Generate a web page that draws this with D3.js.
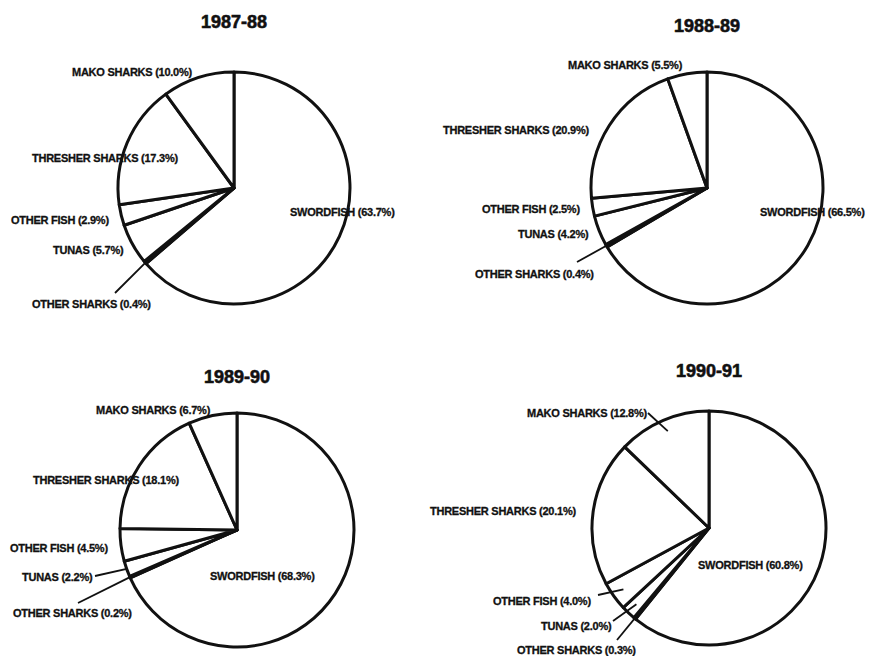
<!DOCTYPE html>
<html><head><meta charset="utf-8">
<script src="https://cdn.jsdelivr.net/npm/d3@7"></script>
<style>
html,body{margin:0;padding:0;background:#fff;}
svg{display:block;}
text{font-family:"Liberation Sans",Arial,sans-serif;font-weight:bold;fill:#111;}
</style></head>
<body><svg id="chart" width="870" height="656"></svg>
<script>
// ---- data ----
const categories = ["SWORDFISH","OTHER SHARKS","TUNAS","OTHER FISH","THRESHER SHARKS","MAKO SHARKS"];
const years = ["1987-88","1988-89","1989-90","1990-91"];
const values8788 = [63.7, 0.4, 5.7, 2.9, 17.3, 10.0];
const values8889 = [66.5, 0.4, 4.2, 2.5, 20.9, 5.5];
const values8990 = [68.3, 0.2, 2.2, 4.5, 18.1, 6.7];
const values9091 = [60.8, 0.3, 2.0, 4.0, 20.1, 12.8];
const seriesValues = [values8788, values8889, values8990, values9091];

// ---- layout (positions only) ----
const pies = [
  {cx:234, cy:188, r:116, titleY:28,
   labels:[[290,216],[32,308],[53,254],[11,224],[32,162],[72,76]],
   leaders:[{i:1, to:[115,293], k:0.97}]},
  {cx:707, cy:188, r:116, titleY:32,
   labels:[[760,216],[475,278],[518,238],[482,213],[443,134],[568,69]],
   leaders:[{i:1, to:[577,262], k:0.97}]},
  {cx:237, cy:530, r:117, titleY:383,
   labels:[[210,580],[13,617],[22,581],[10,552],[33,484],[96,414]],
   leaders:[{i:2, to:[95,576], k:0.99},{i:1, to:[78,603], k:0.99}]},
  {cx:709, cy:528, r:117, titleY:377,
   labels:[[698,569],[517,654],[541,630],[493,605],[430,515],[527,417]],
   leaders:[{i:5, to:[648,413], k:0.9},{i:3, to:[598,595], k:0.9},{i:2, to:[613,621], k:0.9},{i:1, to:[617,640], k:0.9}]}
];

const svg = d3.select("#chart");
const pie = d3.pie().sort(null).value(d => d);

pies.forEach((p, pi) => {
  const vals = seriesValues[pi];
  const arcs = pie(vals);
  const arc = d3.arc().innerRadius(0).outerRadius(p.r);
  const g = svg.append("g").attr("transform", `translate(${p.cx},${p.cy})`);
  g.selectAll("path").data(arcs).enter().append("path")
    .attr("d", arc)
    .attr("fill", "#fff")
    .attr("stroke", "#111")
    .attr("stroke-width", 3)
    .attr("stroke-linejoin", "round");

  svg.append("text")
    .attr("x", p.cx).attr("y", p.titleY)
    .attr("text-anchor", "middle")
    .attr("font-size", 18)
    .attr("stroke", "#111").attr("stroke-width", 0.6)
    .text(years[pi]);

  // leader lines
  p.leaders.forEach(l => {
    const a = arcs[l.i];
    const m = (a.startAngle + a.endAngle) / 2;
    const rr = p.r * l.k;
    svg.append("line")
      .attr("x1", p.cx + rr * Math.sin(m))
      .attr("y1", p.cy - rr * Math.cos(m))
      .attr("x2", l.to[0]).attr("y2", l.to[1])
      .attr("stroke", "#111").attr("stroke-width", 1.8);
  });

  categories.forEach((c, ci) => {
    const pos = p.labels[ci];
    svg.append("text")
      .attr("x", pos[0]).attr("y", pos[1])
      .attr("font-size", 11)
      .attr("letter-spacing", -0.25)
      .attr("stroke", "#111").attr("stroke-width", 0.3)
      .text(`${c} (${vals[ci].toFixed(1)}%)`);
  });
});
</script></body></html>
